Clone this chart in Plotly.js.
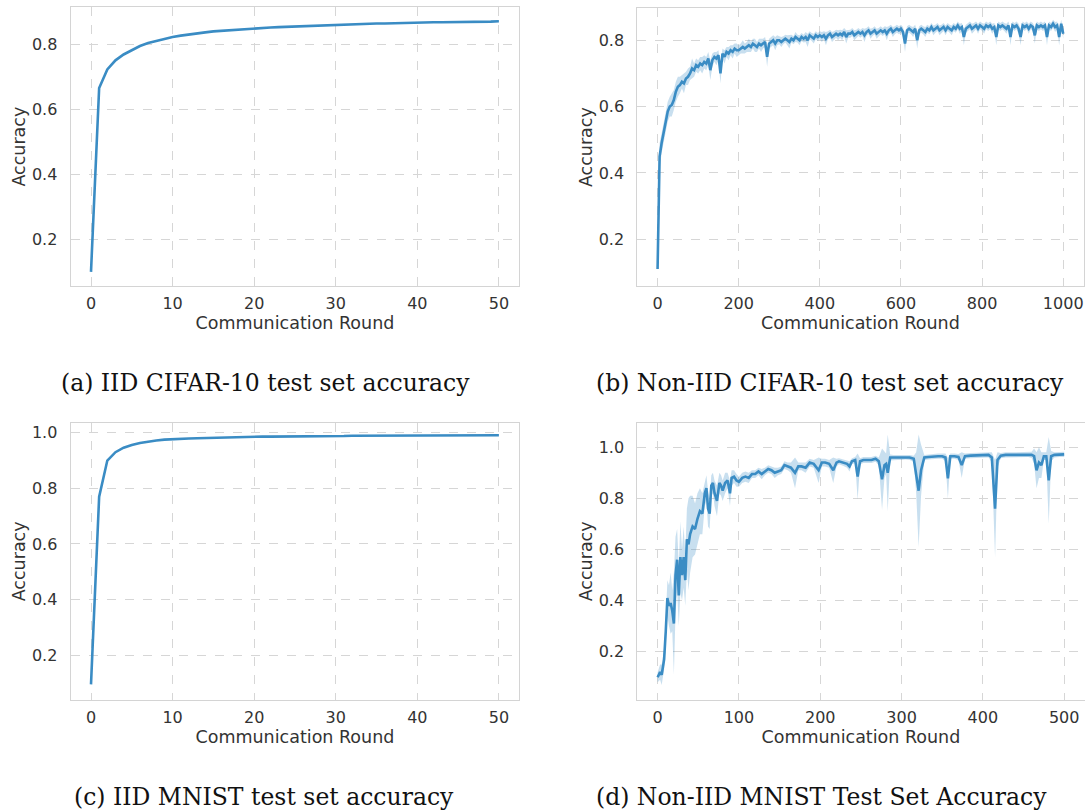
<!DOCTYPE html>
<html>
<head>
<meta charset="utf-8">
<script src="https://cdn.plot.ly/plotly-3.0.1.min.js"></script>
<style>html,body{margin:0;padding:0;background:#fff;}#chart{width:1085px;height:811px;}</style>
</head>
<body>
<div id="chart"></div>
<script>
// ---------- Data ----------
const captions = [
  "(a) IID CIFAR-10 test set accuracy",
  "(b) Non-IID CIFAR-10 test set accuracy",
  "(c) IID MNIST test set accuracy",
  "(d) Non-IID MNIST Test Set Accuracy"
];
const xTitle = "Communication Round";
const yTitle = "Accuracy";

// (a) IID CIFAR-10, rounds 0..50
const roundsA = [0,1,2,3,4,5,6,7,8,9,10,11,12,13,14,15,16,17,18,19,20,21,22,23,24,25,26,27,28,29,30,31,32,33,34,35,36,37,38,39,40,41,42,43,44,45,46,47,48,49,50];
const accA = [0.100,0.665,0.722,0.750,0.768,0.782,0.794,0.803,0.810,0.816,0.822,0.826,0.830,0.833,0.836,0.839,0.841,0.843,0.845,0.847,0.849,0.850,0.851,0.852,0.853,0.855,0.856,0.857,0.858,0.859,0.860,0.860,0.861,0.861,0.862,0.863,0.863,0.864,0.864,0.865,0.866,0.866,0.867,0.867,0.867,0.868,0.868,0.869,0.869,0.869,0.870];

// (b) Non-IID CIFAR-10, every 5 rounds 0..1000
const roundsB = [0,5,10,15,20,25,30,35,40,45,50,55,60,65,70,75,80,85,90,95,100,105,110,115,120,125,130,135,140,145,150,155,160,165,170,175,180,185,190,195,200,205,210,215,220,225,230,235,240,245,250,255,260,265,270,275,280,285,290,295,300,305,310,315,320,325,330,335,340,345,350,355,360,365,370,375,380,385,390,395,400,405,410,415,420,425,430,435,440,445,450,455,460,465,470,475,480,485,490,495,500,505,510,515,520,525,530,535,540,545,550,555,560,565,570,575,580,585,590,595,600,605,610,615,620,625,630,635,640,645,650,655,660,665,670,675,680,685,690,695,700,705,710,715,720,725,730,735,740,745,750,755,760,765,770,775,780,785,790,795,800,805,810,815,820,825,830,835,840,845,850,855,860,865,870,875,880,885,890,895,900,905,910,915,920,925,930,935,940,945,950,955,960,965,970,975,980,985,990,995,1000];
const accB = [
  0.11,0.45,0.49,0.52,0.55,0.585,0.60,0.605,0.62,0.645,
  0.66,0.665,0.675,0.67,0.685,0.69,0.70,0.715,0.71,0.725,
  0.72,0.73,0.725,0.735,0.73,0.745,0.71,0.74,0.75,0.745,
  0.755,0.70,0.76,0.75,0.765,0.76,0.77,0.765,0.775,0.77,
  0.77,0.775,0.78,0.775,0.78,0.785,0.78,0.79,0.785,0.78,
  0.79,0.785,0.79,0.795,0.75,0.79,0.795,0.80,0.79,0.80,
  0.80,0.795,0.80,0.805,0.80,0.795,0.805,0.80,0.81,0.805,
  0.80,0.81,0.805,0.81,0.80,0.815,0.81,0.805,0.815,0.81,
  0.815,0.81,0.815,0.805,0.815,0.82,0.81,0.815,0.82,0.815,
  0.82,0.815,0.825,0.81,0.82,0.82,0.825,0.815,0.82,0.825,
  0.82,0.825,0.815,0.825,0.83,0.82,0.825,0.83,0.82,0.825,
  0.83,0.825,0.83,0.82,0.83,0.835,0.825,0.83,0.835,0.83,
  0.835,0.825,0.79,0.83,0.835,0.83,0.825,0.835,0.80,0.83,
  0.835,0.83,0.825,0.835,0.83,0.84,0.83,0.835,0.84,0.83,
  0.835,0.84,0.83,0.84,0.835,0.83,0.84,0.835,0.845,0.835,
  0.84,0.81,0.835,0.84,0.845,0.835,0.84,0.845,0.835,0.845,
  0.84,0.835,0.845,0.84,0.845,0.835,0.84,0.81,0.845,0.84,
  0.845,0.84,0.835,0.845,0.81,0.845,0.84,0.845,0.835,0.81,
  0.845,0.84,0.845,0.835,0.845,0.84,0.815,0.845,0.84,0.845,
  0.84,0.845,0.81,0.845,0.84,0.85,0.84,0.845,0.81,0.85,
  0.82];
const ciB = [
  0.01,0.04,0.03,0.03,0.03,0.03,0.03,0.035,0.03,0.03,
  0.03,0.025,0.02,0.03,0.02,0.025,0.02,0.03,0.02,0.02,
  0.02,0.02,0.025,0.02,0.02,0.02,0.03,0.02,0.015,0.02,
  0.015,0.03,0.015,0.02,0.015,0.02,0.015,0.02,0.015,0.02,
  0.015,0.015,0.02,0.015,0.015,0.02,0.015,0.015,0.02,0.015,
  0.015,0.02,0.015,0.015,0.03,0.015,0.015,0.015,0.02,0.015,
  0.012,0.015,0.012,0.012,0.015,0.02,0.012,0.012,0.015,0.012,
  0.015,0.012,0.012,0.015,0.02,0.012,0.012,0.015,0.012,0.012,
  0.012,0.015,0.012,0.02,0.012,0.012,0.015,0.012,0.012,0.015,
  0.012,0.015,0.012,0.02,0.012,0.012,0.012,0.015,0.012,0.012,
  0.012,0.012,0.02,0.012,0.012,0.015,0.012,0.012,0.015,0.012,
  0.012,0.012,0.012,0.02,0.012,0.012,0.015,0.012,0.012,0.012,
  0.012,0.015,0.025,0.012,0.012,0.012,0.015,0.012,0.025,0.012,
  0.012,0.012,0.015,0.012,0.012,0.012,0.015,0.012,0.012,0.015,
  0.012,0.012,0.015,0.012,0.012,0.015,0.012,0.012,0.012,0.015,
  0.012,0.025,0.012,0.012,0.012,0.015,0.012,0.012,0.015,0.012,
  0.012,0.015,0.012,0.012,0.012,0.015,0.012,0.025,0.012,0.012,
  0.012,0.012,0.015,0.012,0.025,0.012,0.012,0.012,0.015,0.025,
  0.012,0.012,0.012,0.015,0.012,0.012,0.025,0.012,0.012,0.012,
  0.012,0.012,0.025,0.012,0.012,0.012,0.015,0.012,0.025,0.012,
  0.015];

// (c) IID MNIST, rounds 0..50
const roundsC = [0,1,2,3,4,5,6,7,8,9,10,11,12,13,14,15,16,17,18,19,20,21,22,23,24,25,26,27,28,29,30,31,32,33,34,35,36,37,38,39,40,41,42,43,44,45,46,47,48,49,50];
const accC = [0.095,0.770,0.900,0.930,0.946,0.956,0.963,0.968,0.972,0.975,0.977,0.978,0.979,0.980,0.981,0.982,0.983,0.984,0.984,0.985,0.985,0.986,0.986,0.986,0.987,0.987,0.987,0.988,0.988,0.988,0.988,0.988,0.989,0.989,0.989,0.989,0.989,0.989,0.990,0.990,0.990,0.990,0.990,0.990,0.990,0.991,0.991,0.991,0.991,0.991,0.991];

// (d) Non-IID MNIST, rounds 0..500
const roundsD = [0,3,5,8,10,12,14,16,18,20,22,24,26,28,30,32,34,36,38,40,43,46,49,52,55,58,60,62,64,66,68,70,73,76,78,80,83,86,89,91,94,97,100,104,108,112,116,120,124,128,132,136,140,144,148,152,156,160,164,169,173,177,182,187,192,198,202,206,211,216,220,223,228,233,236,239,243,246,249,253,258,263,268,272,276,279,281,283,286,290,295,300,305,310,315,318,321,324,328,333,340,345,350,354,357,360,365,370,374,378,385,392,400,407,411,415,418,422,428,435,442,450,456,460,463,466,469,472,475,478,481,484,488,494,500];
const accD = [0.10,0.12,0.11,0.17,0.28,0.41,0.38,0.39,0.36,0.31,0.50,0.56,0.42,0.57,0.50,0.57,0.48,0.64,0.62,0.66,0.69,0.68,0.72,0.75,0.74,0.82,0.84,0.76,0.74,0.85,0.86,0.82,0.79,0.86,0.85,0.83,0.86,0.87,0.82,0.88,0.885,0.87,0.865,0.88,0.885,0.88,0.895,0.895,0.905,0.895,0.905,0.915,0.91,0.90,0.905,0.91,0.93,0.925,0.92,0.90,0.925,0.925,0.92,0.94,0.935,0.91,0.94,0.94,0.935,0.91,0.94,0.945,0.94,0.935,0.925,0.945,0.95,0.885,0.945,0.95,0.95,0.95,0.955,0.945,0.875,0.93,0.935,0.90,0.96,0.96,0.96,0.96,0.962,0.96,0.955,0.90,0.83,0.91,0.96,0.962,0.965,0.965,0.965,0.96,0.878,0.965,0.965,0.962,0.93,0.965,0.967,0.968,0.97,0.97,0.96,0.76,0.95,0.967,0.97,0.97,0.97,0.972,0.972,0.97,0.965,0.91,0.94,0.93,0.965,0.965,0.87,0.965,0.97,0.972,0.972];
const ciD = [0.02,0.03,0.04,0.04,0.05,0.07,0.08,0.12,0.08,0.20,0.15,0.12,0.12,0.14,0.10,0.12,0.10,0.12,0.18,0.15,0.12,0.10,0.10,0.09,0.08,0.05,0.05,0.07,0.06,0.04,0.04,0.05,0.06,0.04,0.04,0.04,0.04,0.03,0.05,0.03,0.025,0.025,0.02,0.02,0.02,0.02,0.015,0.015,0.015,0.02,0.015,0.015,0.015,0.02,0.015,0.015,0.015,0.015,0.02,0.06,0.015,0.015,0.02,0.015,0.015,0.05,0.015,0.015,0.015,0.05,0.015,0.012,0.012,0.015,0.02,0.012,0.012,0.09,0.012,0.012,0.012,0.012,0.012,0.015,0.12,0.05,0.04,0.15,0.012,0.01,0.01,0.01,0.01,0.01,0.012,0.08,0.22,0.10,0.01,0.01,0.01,0.01,0.01,0.015,0.08,0.01,0.01,0.012,0.05,0.01,0.01,0.01,0.01,0.01,0.02,0.19,0.03,0.01,0.01,0.01,0.01,0.01,0.01,0.012,0.03,0.07,0.06,0.05,0.015,0.015,0.17,0.02,0.01,0.01,0.01];

// ---------- Styling ----------
const lineColor = '#3a8cc4';
const bandColor = 'rgba(58,140,196,0.28)';
const tickFont = {family: 'DejaVu Sans, sans-serif', size: 16, color: '#333333'};
const titleFont = {family: 'DejaVu Sans, sans-serif', size: 17.5, color: '#333333'};

function lineTrace(x, y, xa, ya) {
  return {x: x, y: y, xaxis: xa, yaxis: ya, type: 'scatter', mode: 'lines',
          line: {color: lineColor, width: 2.6}, showlegend: false, hoverinfo: 'x+y'};
}
function bandTraces(x, y, hw, xa, ya) {
  const up = y.map((v, i) => v + hw[i]);
  const lo = y.map((v, i) => v - hw[i]);
  return [
    {x: x, y: up, xaxis: xa, yaxis: ya, type: 'scatter', mode: 'lines',
     line: {width: 0, color: bandColor}, showlegend: false, hoverinfo: 'skip'},
    {x: x, y: lo, xaxis: xa, yaxis: ya, type: 'scatter', mode: 'lines',
     line: {width: 0, color: bandColor}, fill: 'tonexty', fillcolor: bandColor,
     showlegend: false, hoverinfo: 'skip'}
  ];
}

const W = 1085, H = 811;
function xAxis(px0, px1, range, dtick, anchor) {
  return {domain: [px0 / W, px1 / W], range: range, dtick: dtick, tick0: 0, anchor: anchor,
          showgrid: true, gridcolor: '#d6d6d6', griddash: 'dash', gridwidth: 1,
          showline: true, mirror: true, linecolor: '#d4d4d4', linewidth: 1,
          zeroline: false, ticks: '', ticklabelstandoff: 3, tickfont: tickFont,
          title: {text: xTitle, font: titleFont, standoff: 3}};
}
function yAxis(py0, py1, range, anchor) {
  return {domain: [1 - py1 / H, 1 - py0 / H], range: range, dtick: 0.2, tick0: 0, anchor: anchor,
          tickformat: '.1f',
          showgrid: true, gridcolor: '#d6d6d6', griddash: 'dash', gridwidth: 1,
          showline: true, mirror: true, linecolor: '#d4d4d4', linewidth: 1,
          zeroline: false, ticks: '', ticklabelstandoff: 9, tickfont: tickFont,
          title: {text: yTitle, font: titleFont, standoff: 1}};
}

const data = [].concat(
  [lineTrace(roundsA, accA, 'x', 'y')],
  bandTraces(roundsB, accB, ciB, 'x2', 'y2'),
  [lineTrace(roundsB, accB, 'x2', 'y2')],
  [lineTrace(roundsC, accC, 'x3', 'y3')],
  bandTraces(roundsD, accD, ciD, 'x4', 'y4'),
  [lineTrace(roundsD, accD, 'x4', 'y4')]
);

const capFont = {family: 'DejaVu Serif, serif', size: 23.5, color: '#111111'};
const layout = {
  width: W, height: H,
  margin: {l: 0, r: 0, t: 0, b: 0},
  paper_bgcolor: '#ffffff', plot_bgcolor: '#ffffff',
  showlegend: false,
  xaxis:  xAxis(70.6, 519.3, [-2.5, 52.5], 10, 'y'),
  yaxis:  yAxis(7.3, 286, [0.0565, 0.913], 'x'),
  xaxis2: xAxis(637.3, 1083.5, [-50, 1050], 200, 'y2'),
  yaxis2: yAxis(8.3, 286, [0.059, 0.8965], 'x2'),
  xaxis3: xAxis(70.6, 519.3, [-2.5, 52.5], 10, 'y3'),
  yaxis3: yAxis(422.7, 700, [0.039, 1.036], 'x3'),
  xaxis4: xAxis(637.3, 1084.5, [-25, 525], 100, 'y4'),
  yaxis4: yAxis(422.7, 700, [0.011, 1.096], 'x4'),
  annotations: [
    {text: captions[0], x: 265.5 / W, y: 1 - 383 / H},
    {text: captions[1], x: 829.5 / W, y: 1 - 383 / H},
    {text: captions[2], x: 264 / W, y: 1 - 797 / H},
    {text: captions[3], x: 821 / W, y: 1 - 797 / H}
  ].map(a => Object.assign(a, {xref: 'paper', yref: 'paper', xanchor: 'center', yanchor: 'middle',
                               showarrow: false, font: capFont}))
};

Plotly.newPlot('chart', data, layout, {displayModeBar: false, staticPlot: true});
</script>
</body>
</html>
